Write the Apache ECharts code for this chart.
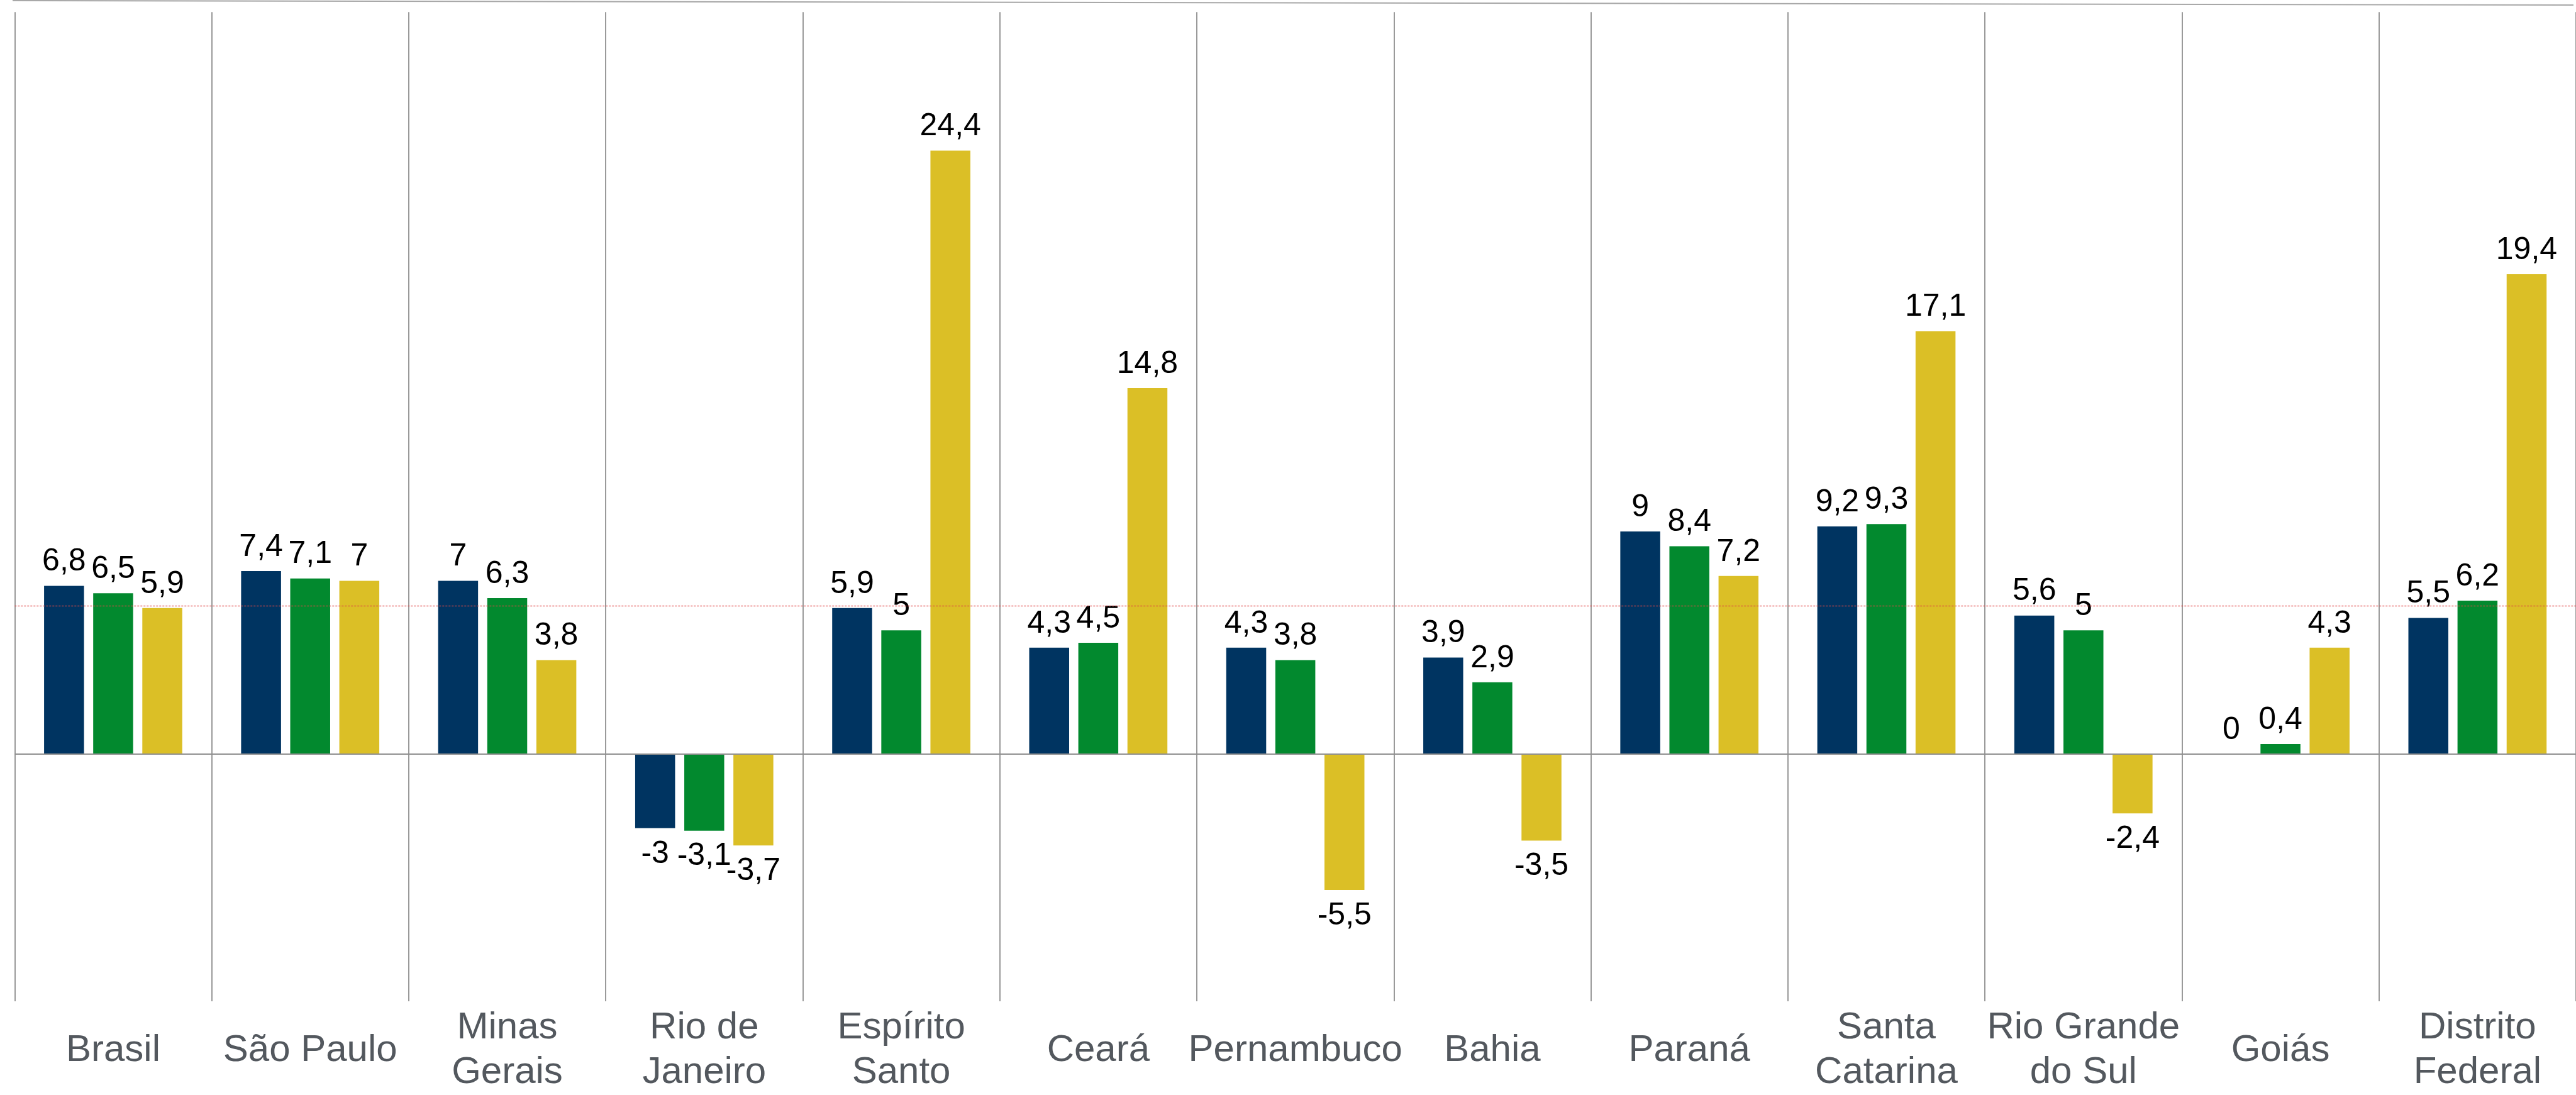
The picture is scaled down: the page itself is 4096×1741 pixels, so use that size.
<!DOCTYPE html>
<html>
<head>
<meta charset="utf-8">
<script src="https://cdn.jsdelivr.net/npm/echarts@6/dist/echarts.min.js"></script>
<style>
html,body{margin:0;padding:0;background:#fff;}
#chart{width:4096px;height:1741px;}
</style>
</head>
<body>
<div id="chart"></div>
<script>
const categories = ['Brasil', 'São Paulo', 'Minas\nGerais', 'Rio de\nJaneiro', 'Espírito\nSanto', 'Ceará', 'Pernambuco', 'Bahia', 'Paraná', 'Santa\nCatarina', 'Rio Grande\ndo Sul', 'Goiás', 'Distrito\nFederal'];
const seriesA = [6.8, 7.4, 7, -3, 5.9, 4.3, 4.3, 3.9, 9, 9.2, 5.6, 0, 5.5];
const seriesB = [6.5, 7.1, 6.3, -3.1, 5, 4.5, 3.8, 2.9, 8.4, 9.3, 5, 0.4, 6.2];
const seriesC = [5.9, 7, 3.8, -3.7, 24.4, 14.8, -5.5, -3.5, 7.2, 17.1, -2.4, 4.3, 19.4];
const refLineValue = 6;
const colors = ['#003461', '#02892E', '#DBBF26'];

function mk(arr) {
  return arr.map(v => ({
    value: v,
    label: { position: v < 0 ? 'bottom' : 'top', distance: v < 0 ? 16 : 13 }
  }));
}
const labelCfg = {
  show: true,
  color: '#000',
  fontSize: 50,
  fontFamily: 'Liberation Sans, Arial, sans-serif',
  formatter: p => String(p.value).replace('.', ',')
};

const chart = echarts.init(document.getElementById('chart'));
chart.setOption({
  animation: false,
  backgroundColor: '#fff',
  graphic: [{
    type: 'line',
    shape: { x1: 20, y1: 1, x2: 4092, y2: 8 },
    style: { stroke: '#a8a8a8', lineWidth: 2.2 },
    silent: true
  }],
  grid: { left: 23.3, top: 19.3, width: 4075.3, height: 1582.7, containLabel: false },
  xAxis: {
    type: 'category',
    data: categories,
    axisLine: { show: false },
    axisTick: { show: false },
    splitLine: { show: true, lineStyle: { color: '#9a9a9a', width: 2 } },
    axisLabel: {
      interval: 0,
      color: '#53585E',
      fontSize: 60,
      lineHeight: 71,
      margin: 78,
      verticalAlign: 'middle',
      fontFamily: 'Liberation Sans, Arial, sans-serif'
    }
  },
  yAxis: {
    type: 'value',
    min: -10,
    max: 30,
    show: false,
    splitLine: { show: false }
  },
  series: [
    { type: 'bar', data: mk(seriesA), itemStyle: { color: colors[0] }, barWidth: 63.5, barGap: '23%', label: labelCfg },
    { type: 'bar', data: mk(seriesB), itemStyle: { color: colors[1] }, barWidth: 63.5, barGap: '23%', label: labelCfg },
    { type: 'bar', data: mk(seriesC), itemStyle: { color: colors[2] }, barWidth: 63.5, barGap: '23%', label: labelCfg,
      markLine: {
        silent: true,
        symbol: 'none',
        label: { show: false },
        data: [
          { yAxis: 0, lineStyle: { color: '#8f8f8f', type: 'solid', width: 2 } },
          { yAxis: refLineValue, lineStyle: { color: '#e04848', type: [3, 2], width: 1.4, opacity: 0.75 } }
        ]
      }
    }
  ]
});
</script>
</body>
</html>
